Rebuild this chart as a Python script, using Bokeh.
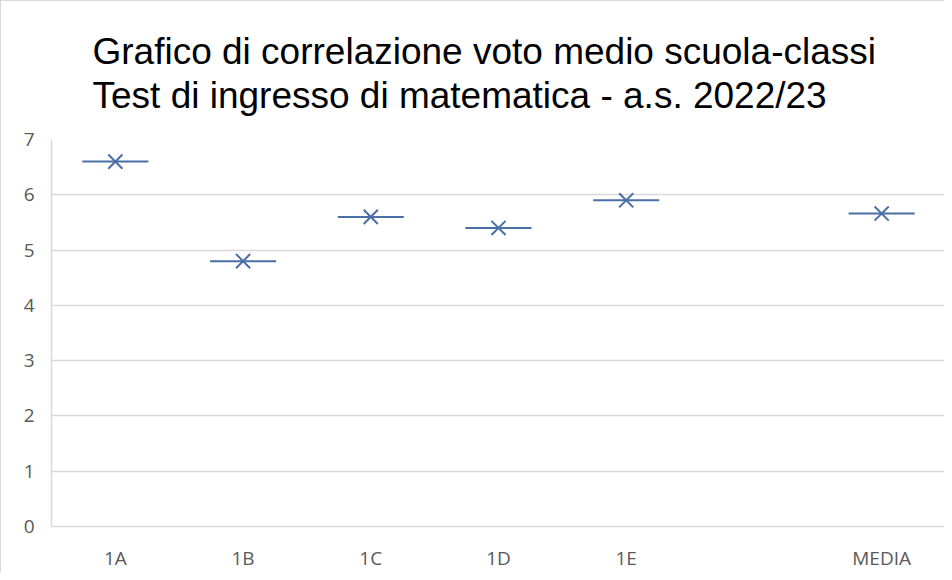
from bokeh.plotting import figure
from bokeh.models import FactorRange, Title, ColumnDataSource, Range1d, FixedTicker
from bokeh.embed import file_html
from bokeh.resources import INLINE

categories = ["1A", "1B", "1C", "1D", "1E", " ", "MEDIA"]
point_categories = ["1A", "1B", "1C", "1D", "1E", "MEDIA"]
voto_medio = [6.6, 4.8, 5.6, 5.4, 5.9, 5.66]
y_ticks = [0, 1, 2, 3, 4, 5, 6, 7]

title_text = ("Grafico di correlazione voto medio scuola-classi\n"
              "Test di ingresso di matematica - a.s. 2022/23")

src = ColumnDataSource(dict(x=point_categories, y=voto_medio))

p = figure(width=944, height=572, output_backend="svg", toolbar_location=None,
           x_range=FactorRange(factors=categories, range_padding=0),
           y_range=Range1d(0, 7), title=None,
           min_border_left=50, min_border_right=0, min_border_top=138, min_border_bottom=45)

p.add_layout(Title(text=title_text, align="left", offset=41, text_font="Liberation Sans",
                   text_font_size="37px", text_font_style="normal", text_color="#000000",
                   text_line_height=1.08, standoff=46), "above")

p.scatter("x", "y", source=src, marker="dash", size=66, line_color="#4a6fa5", line_width=2)
p.scatter("x", "y", source=src, marker="x", size=20, line_color="#4a6fa5", line_width=2)

p.outline_line_color = None
p.xgrid.grid_line_color = None
p.ygrid.grid_line_color = "#d9d9d9"
p.ygrid.grid_line_width = 1.5
p.yaxis.ticker = FixedTicker(ticks=y_ticks)

for ax in (p.xaxis, p.yaxis):
    ax.major_tick_line_color = None
    ax.minor_tick_line_color = None
    ax.major_label_text_font = "Open Sans"
    ax.major_label_text_font_size = "19px"
    ax.major_label_text_color = "#595959"
    ax.axis_line_color = "#d9d9d9"
    ax.axis_line_width = 1.5
    ax.axis_label_standoff = 0
p.xaxis.major_label_standoff = 12
p.yaxis.major_label_standoff = 11

p.styles = {"border-left": "1.5px solid #d9d9d9", "border-top": "1.5px solid #d9d9d9"}

open("out.html", "w").write(file_html(p, INLINE))
